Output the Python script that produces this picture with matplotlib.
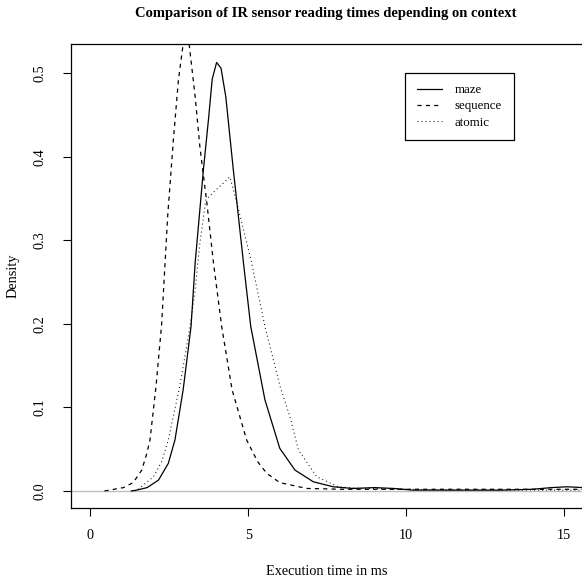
import matplotlib
matplotlib.use("Agg")
import matplotlib.pyplot as plt

plt.rcParams['font.family'] = ['Liberation Serif', 'DejaVu Serif']
plt.rcParams['lines.scale_dashes'] = False

# Kernel density estimates of execution time (ms) per context
maze_x = [1.3, 1.47, 1.8, 2.16, 2.47, 2.68, 2.94, 3.19, 3.32, 3.58, 3.74, 3.86, 4.0,
          4.14, 4.29, 4.53, 4.85, 5.08, 5.53, 6.0, 6.48, 7.06, 7.69, 8.3, 9.0, 9.6,
          10.2, 11.0, 12.0, 13.0, 14.0, 14.6, 15.1, 15.6]
maze_y = [0.0, 0.001, 0.004, 0.013, 0.033, 0.061, 0.121, 0.197, 0.273, 0.384, 0.444,
          0.493, 0.513, 0.506, 0.472, 0.384, 0.273, 0.197, 0.109, 0.051, 0.025, 0.011,
          0.005, 0.003, 0.004, 0.003, 0.001, 0.001, 0.001, 0.001, 0.002, 0.004, 0.005,
          0.004]

seq_x = [0.45, 0.6, 1.05, 1.36, 1.63, 1.79, 1.89, 2.08, 2.26, 2.45, 2.63, 2.79, 2.94,
         3.03, 3.13, 3.32, 3.47, 3.69, 3.9, 4.16, 4.49, 4.95, 5.3, 5.59, 6.0, 6.85,
         8.0, 10.0, 12.0, 14.0, 15.6]
seq_y = [0.0, 0.001, 0.004, 0.01, 0.025, 0.045, 0.061, 0.125, 0.2, 0.329, 0.42, 0.492,
         0.535, 0.545, 0.535, 0.472, 0.412, 0.345, 0.273, 0.197, 0.121, 0.061, 0.035,
         0.021, 0.01, 0.003, 0.002, 0.002, 0.002, 0.002, 0.002]

atomic_x = [1.4, 1.52, 2.0, 2.26, 2.47, 2.84, 3.16, 3.32, 3.47, 3.66, 4.42, 4.64,
            5.11, 5.53, 6.01, 6.32, 6.59, 7.17, 7.85, 8.5, 9.0, 10.0, 12.0, 14.0, 15.6]
atomic_y = [0.0, 0.002, 0.017, 0.035, 0.061, 0.127, 0.197, 0.241, 0.297, 0.349, 0.376,
            0.345, 0.273, 0.197, 0.125, 0.089, 0.049, 0.017, 0.005, 0.003, 0.003, 0.002,
            0.001, 0.001, 0.001]

x_ticks = [0, 5, 10, 15]
y_ticks = [0.0, 0.1, 0.2, 0.3, 0.4, 0.5]

fig = plt.figure(figsize=(5.82, 5.77), dpi=100)
ax = fig.add_axes([0.1215, 0.1196, 0.8802, 0.8036])

ax.axhline(0, color='#bebebe', lw=1.0, zorder=1)
ax.plot(maze_x, maze_y, color='black', lw=0.9, label='maze')
ax.plot(seq_x, seq_y, color='black', lw=0.9, linestyle=(0, (3, 3)), label='sequence')
ax.plot(atomic_x, atomic_y, color='black', lw=0.75, linestyle=(0, (0.7, 2.2)),
        label='atomic')

ax.set_xlim(-0.62, 15.6)
ax.set_ylim(-0.0204, 0.5347)
ax.set_xticks(x_ticks)
ax.set_xticklabels([str(t) for t in x_ticks])
ax.set_yticks(y_ticks)
ax.set_yticklabels([f'{t:.1f}' for t in y_ticks], rotation=90, va='center')
ax.tick_params(direction='out', length=5.8, width=0.8, labelsize=10.3)
ax.tick_params(axis='y', pad=11.5)
ax.tick_params(axis='x', pad=9)
for s in ax.spines.values():
    s.set_linewidth(0.9)

ax.set_xlabel('Execution time in ms', fontsize=10.3, labelpad=17)
ax.set_ylabel('Density', fontsize=10.3, labelpad=10)
fig.suptitle('Comparison of IR sensor reading times depending on context',
             fontsize=10.5, fontweight='bold', x=0.559, y=0.988, va='top')

leg = ax.legend(loc='upper left', bbox_to_anchor=(405 / 582, 1 - 72.5 / 577),
                bbox_transform=fig.transFigure, borderaxespad=0, fancybox=False,
                edgecolor='black', framealpha=1, fontsize=9.3, handlelength=1.95,
                handletextpad=1.0, labelspacing=0.33, borderpad=0.9)
leg.get_frame().set_linewidth(0.9)

fig.savefig('out.png', dpi=100)
